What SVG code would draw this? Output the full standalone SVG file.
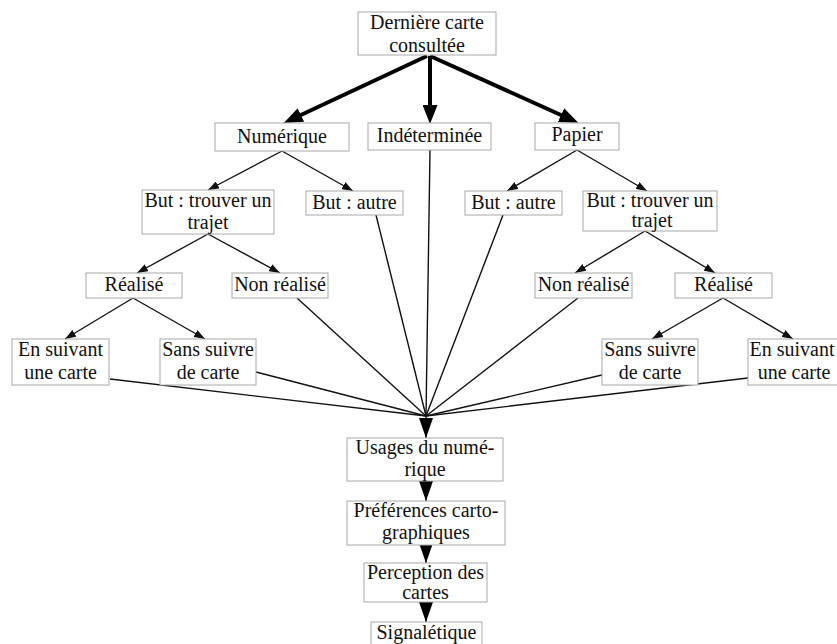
<svg xmlns="http://www.w3.org/2000/svg" width="837" height="644" viewBox="0 0 837 644">
<style>
rect.b{fill:#fff;stroke:#a8a8a8;stroke-width:1}
text{font-family:"Liberation Serif","Times New Roman",serif;font-size:20px;fill:#111;text-anchor:middle}
.thin{stroke:#111;stroke-width:1.4;fill:none}
.thick{stroke:#000;stroke-width:4;fill:none}
</style>
<defs>
<marker id="ah" markerUnits="userSpaceOnUse" markerWidth="11" markerHeight="8" refX="11" refY="4" orient="auto"><path d="M0,0 L11,4 L0,8 z" fill="#111"/></marker>
<marker id="ahT" markerUnits="userSpaceOnUse" markerWidth="19" markerHeight="15" refX="6" refY="7.5" orient="auto"><path d="M0,0 L19,7.5 L0,15 z" fill="#000"/></marker>
<marker id="ahV" markerUnits="userSpaceOnUse" markerWidth="20" markerHeight="14" refX="20" refY="7" orient="auto"><path d="M0,0 L20,7 L0,14 z" fill="#000"/></marker>
</defs>
<rect width="837" height="644" fill="#fff"/>
<g id="connectors">
<line class="thick" x1="427" y1="56" x2="295.5" y2="117.5" marker-end="url(#ahT)"/>
<line class="thick" x1="430" y1="56" x2="430" y2="111" marker-end="url(#ahT)"/>
<line class="thick" x1="430" y1="56" x2="566.5" y2="117.5" marker-end="url(#ahT)"/>
<line class="thin" x1="282" y1="151" x2="208" y2="190" marker-end="url(#ah)"/>
<line class="thin" x1="282" y1="151" x2="353" y2="191" marker-end="url(#ah)"/>
<line class="thin" x1="208" y1="234" x2="137" y2="273" marker-end="url(#ah)"/>
<line class="thin" x1="208" y1="234" x2="280" y2="273" marker-end="url(#ah)"/>
<line class="thin" x1="133" y1="298" x2="65" y2="339" marker-end="url(#ah)"/>
<line class="thin" x1="133" y1="298" x2="205" y2="339" marker-end="url(#ah)"/>
<line class="thin" x1="577" y1="150" x2="507" y2="191" marker-end="url(#ah)"/>
<line class="thin" x1="577" y1="150" x2="647" y2="191" marker-end="url(#ah)"/>
<line class="thin" x1="645" y1="231" x2="575" y2="273" marker-end="url(#ah)"/>
<line class="thin" x1="645" y1="231" x2="715" y2="273" marker-end="url(#ah)"/>
<line class="thin" x1="723" y1="298" x2="652" y2="339" marker-end="url(#ah)"/>
<line class="thin" x1="723" y1="298" x2="793" y2="339" marker-end="url(#ah)"/>
<line class="thin" x1="110" y1="379" x2="426" y2="416"/>
<line class="thin" x1="256" y1="372" x2="426" y2="416"/>
<line class="thin" x1="297" y1="298" x2="426" y2="416"/>
<line class="thin" x1="376" y1="215" x2="426" y2="416"/>
<line class="thin" x1="430" y1="150" x2="426" y2="416"/>
<line class="thin" x1="503" y1="215" x2="426" y2="416"/>
<line class="thin" x1="578" y1="298" x2="426" y2="416"/>
<line class="thin" x1="602" y1="375" x2="426" y2="416"/>
<line class="thin" x1="748" y1="378" x2="426" y2="416"/>
<line class="thin" x1="426" y1="416" x2="426" y2="438" marker-end="url(#ahV)"/>
<line class="thin" x1="426" y1="481" x2="426" y2="501" marker-end="url(#ahV)"/>
<line class="thin" x1="426" y1="545" x2="426" y2="563" marker-end="url(#ahV)"/>
<line class="thin" x1="426" y1="602" x2="426" y2="622" marker-end="url(#ahV)"/>
</g>
<g id="n_derniere"><rect class="b" x="358" y="12" width="138" height="43"/><text x="427" y="29">Dernière carte</text><text x="427" y="52">consultée</text></g>
<g id="n_numerique"><rect class="b" x="215" y="123" width="134" height="28"/><text x="282" y="143">Numérique</text></g>
<g id="n_indeterminee"><rect class="b" x="368" y="123" width="123" height="27"/><text x="429.5" y="142">Indéterminée</text></g>
<g id="n_papier"><rect class="b" x="535" y="123" width="84" height="27"/><text x="577" y="141">Papier</text></g>
<g id="n_trajet_l"><rect class="b" x="142" y="190" width="132" height="44"/><text x="208" y="207">But : trouver un</text><text x="208" y="229">trajet</text></g>
<g id="n_autre_l"><rect class="b" x="306" y="191" width="97" height="24"/><text x="354.5" y="209">But : autre</text></g>
<g id="n_autre_r"><rect class="b" x="465" y="191" width="97" height="24"/><text x="513.5" y="209">But : autre</text></g>
<g id="n_trajet_r"><rect class="b" x="583" y="191" width="134" height="40"/><text x="650" y="207">But : trouver un</text><text x="652" y="227">trajet</text></g>
<g id="n_realise_l"><rect class="b" x="86" y="273" width="96" height="25"/><text x="134" y="291">Réalisé</text></g>
<g id="n_nonrealise_l"><rect class="b" x="232" y="273" width="96" height="25"/><text x="280" y="291">Non réalisé</text></g>
<g id="n_nonrealise_r"><rect class="b" x="535" y="273" width="97" height="25"/><text x="583.5" y="291">Non réalisé</text></g>
<g id="n_realise_r"><rect class="b" x="675" y="273" width="97" height="25"/><text x="723.5" y="291">Réalisé</text></g>
<g id="n_ensuivant_l"><rect class="b" x="12" y="339" width="97" height="46"/><text x="60.5" y="356">En suivant</text><text x="60.5" y="379">une carte</text></g>
<g id="n_sanssuivre_l"><rect class="b" x="160" y="339" width="96" height="46"/><text x="208" y="356">Sans suivre</text><text x="208" y="379">de carte</text></g>
<g id="n_sanssuivre_r"><rect class="b" x="602" y="339" width="96" height="46"/><text x="650" y="356">Sans suivre</text><text x="650" y="379">de carte</text></g>
<g id="n_ensuivant_r"><rect class="b" x="748" y="339" width="97" height="46"/><text x="792" y="356">En suivant</text><text x="794" y="379">une carte</text></g>
<g id="n_usages"><rect class="b" x="347" y="438" width="156" height="43"/><text x="425" y="454">Usages du numé-</text><text x="425" y="476">rique</text></g>
<g id="n_preferences"><rect class="b" x="347" y="501" width="158" height="44"/><text x="426" y="517">Préférences carto-</text><text x="426" y="539">graphiques</text></g>
<g id="n_perception"><rect class="b" x="364" y="563" width="123" height="39"/><text x="425.5" y="579">Perception des</text><text x="425.5" y="599">cartes</text></g>
<g id="n_signaletique"><rect class="b" x="371" y="622" width="111" height="30"/><text x="426.5" y="639">Signalétique</text></g>
</svg>
